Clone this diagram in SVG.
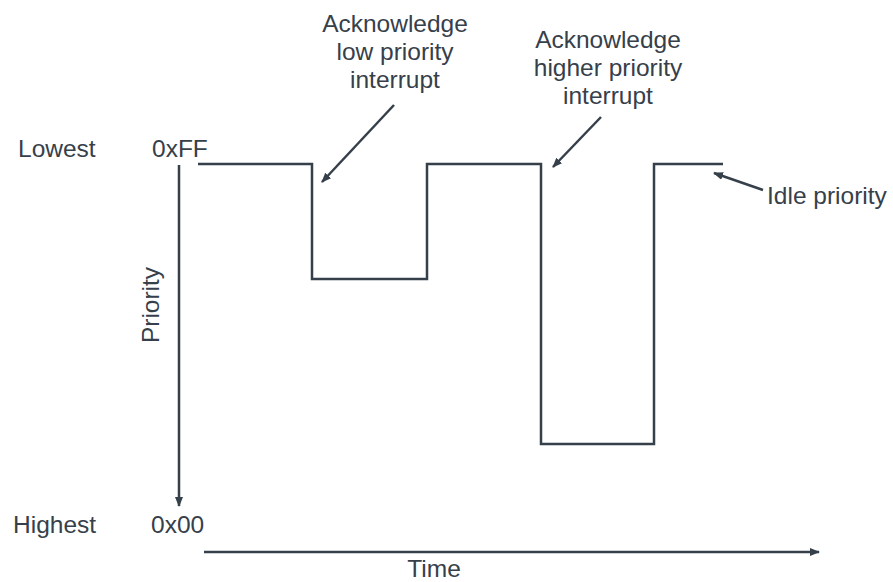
<svg xmlns="http://www.w3.org/2000/svg" width="893" height="582" viewBox="0 0 893 582">
<style>
text{font-family:"Liberation Sans",Arial,sans-serif;font-size:24.5px;fill:#36404a}
.c{text-anchor:middle}
.ln{stroke:#36404a;stroke-width:2.5;fill:none}
.ar{stroke:#36404a;stroke-width:2.5;fill:none;marker-end:url(#ah)}
</style>
<defs>
<marker id="ah" markerUnits="userSpaceOnUse" markerWidth="12" markerHeight="10" refX="9" refY="4" orient="auto">
<path d="M0,0 L10,4 L0,8 Z" fill="#36404a"/>
</marker>
</defs>
<rect width="893" height="582" fill="#fff"/>
<g id="labels">
<text x="18" y="157">Lowest</text>
<text x="152" y="157">0xFF</text>
<text x="13" y="533">Highest</text>
<text x="151" y="533">0x00</text>
<text class="c" transform="translate(159,305) rotate(-90)">Priority</text>
<text class="c" x="434" y="577">Time</text>
</g>
<g id="note-low">
<text class="c" x="395" y="32">Acknowledge</text>
<text class="c" x="395" y="60">low priority</text>
<text class="c" x="395" y="88">interrupt</text>
</g>
<g id="note-high">
<text class="c" x="608" y="48">Acknowledge</text>
<text class="c" x="608" y="76">higher priority</text>
<text class="c" x="608" y="104">interrupt</text>
</g>
<g id="note-idle">
<text x="767" y="204">Idle priority</text>
</g>
<g id="connectors">
<path class="ar" d="M179,165 L179,506"/>
<path class="ar" d="M204,552 L819,552"/>
<path class="ln" d="M198,164 H312 V279 H427 V164 H541 V444 H654 V164 H723"/>
<path class="ar" d="M394,105 L322,182"/>
<path class="ar" d="M601,117 L553,167"/>
<path class="ar" d="M763,190 L714,173"/>
</g>
</svg>
